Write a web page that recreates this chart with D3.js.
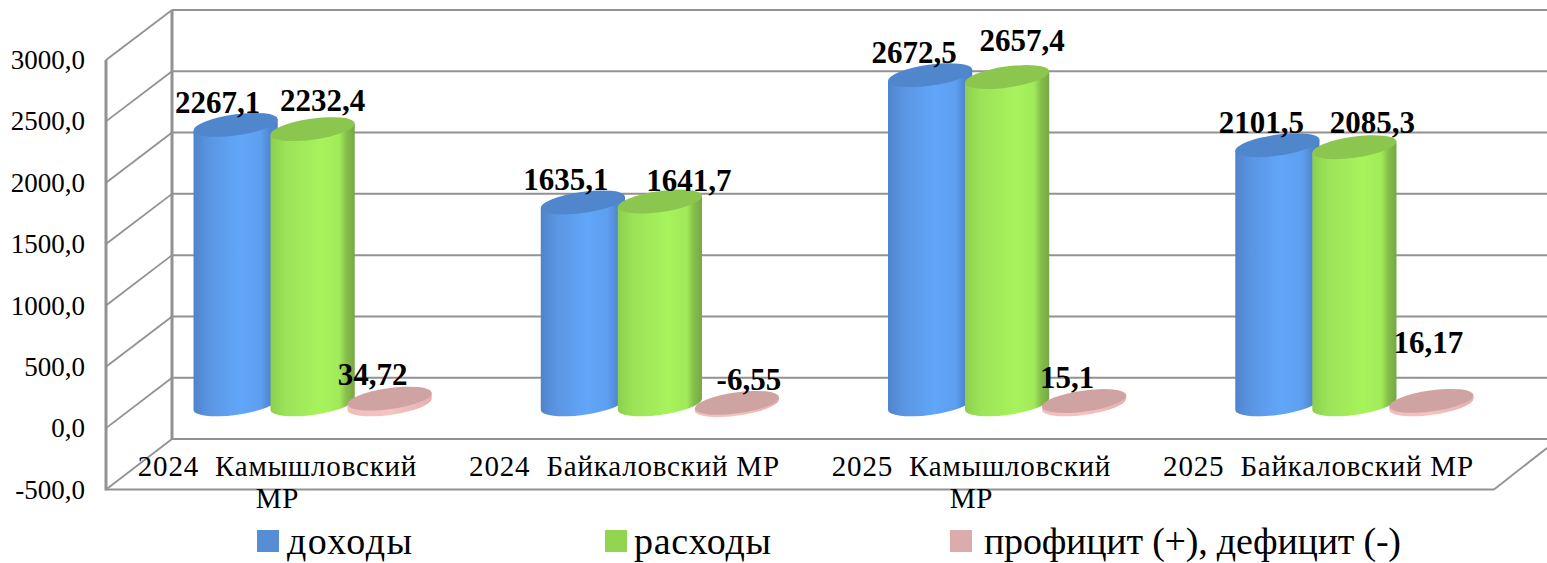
<!DOCTYPE html>
<html lang="ru">
<head>
<meta charset="utf-8">
<script src="https://cdn.jsdelivr.net/npm/d3@7"></script>
<style>
  html,body{margin:0;padding:0;background:#fff;}
  svg{display:block;}
  text{font-family:"Liberation Serif","Times New Roman",serif;fill:#000;white-space:pre;}
</style>
</head>
<body>
<svg id="chart" width="1547" height="563"></svg>
<script>
/* ----- data ------------------------------------------------- */
const categories = ['2024 Камышловский','2024 Байкаловский','2025 Камышловский','2025 Байкаловский'];
const categoryLabels = [
  ['2024  Камышловский','МР'],
  ['2024  Байкаловский МР'],
  ['2025  Камышловский','МР'],
  ['2025  Байкаловский МР']
];
const seriesNames = ['доходы','расходы','профицит (+), дефицит (-)'];
const income  = [2267.1,1635.1,2672.5,2101.5];
const costs   = [2232.4,1641.7,2657.4,2085.3];
const balance = [34.72,-6.55,15.1,16.17];
const yTicks  = [-500,0,500,1000,1500,2000,2500,3000];

/* ----- layout ----------------------------------------------- */
const svg = d3.select('#chart');
const frontX = 106, backX = 172, frontR = 1494, backR = 1547;
const yFront = d3.scaleLinear().domain([-500,3000]).range([489.5,60]);
const yBack  = d3.scaleLinear().domain([-500,3000]).range([439,10]);
const yMid   = d3.scaleLinear().domain([-500,3000]).range([464.2,35]);

const xMid   = d3.scaleBand().domain(categories).range([139,1528]);
const xFront = d3.scaleBand().domain(categories).range([frontX,frontR]);
const xSer   = d3.scalePoint().domain(seriesNames).range([-77,77]);

const RX = 42.5, RY = 10.5, TILT = -8, BASE_DROP = 1.5;
const GRID = '#929292';

// manual label nudges, same as someone dragged them in the original
const labelDx = [[-18,-17,-16,-16],[10,29,15,18],[-17,12,-17,-3]];
const labelDy = [[-12,-12,-12,-12],[-18,-11,-26,-14],[-14,-13,-13,-48]];

// legend text start and run length
const legendTextDx = [30,29,34];
const legendTextLen = [125,137,417];

const styles = [
  {top:'#4f86cc',grad:'gBlue', stops:[['0%','#4f84cb'],['18%','#5a95e2'],['55%','#61a6f9'],['80%','#5d9eef'],['90%','#5288d2'],['100%','#4f80c4']],swatch:'#558ed5'},
  {top:'#8bc64f',grad:'gGreen',stops:[['0%','#8ccf4e'],['18%','#9ce358'],['60%','#a7f35c'],['82%','#a1ea59'],['90%','#86bf4c'],['100%','#76a843']],swatch:'#92d64f'},
  {top:'#d0a3a3',grad:'gPink', stops:[['0%','#f2bcbc'],['50%','#f5c3c3'],['100%','#e6b0b0']],swatch:'#dcabab'}
];

/* ----- gradients -------------------------------------------- */
const defs = svg.append('defs');
styles.forEach(s=>{
  defs.append('linearGradient').attr('id',s.grad)
    .selectAll('stop').data(s.stops).join('stop')
      .attr('offset',d=>d[0]).attr('stop-color',d=>d[1]);
});

/* ----- walls and grid --------------------------------------- */
const walls = svg.append('g').attr('fill','none').attr('stroke',GRID);

walls.selectAll('.back').data(yTicks).join('line')
  .attr('x1',backX).attr('x2',backR)
  .attr('y1',d=>yBack(d)).attr('y2',d=>yBack(d))
  .attr('stroke-width',2);

walls.selectAll('.side').data(yTicks).join('line')
  .attr('x1',frontX).attr('x2',backX)
  .attr('y1',d=>yFront(d)).attr('y2',d=>yBack(d))
  .attr('stroke-width',1.8);

walls.append('line').attr('x1',backX).attr('x2',backX)
  .attr('y1',yBack(3000)).attr('y2',yBack(-500)).attr('stroke-width',3);
walls.append('line').attr('x1',frontX).attr('x2',frontX)
  .attr('y1',yFront(3000)).attr('y2',yFront(-500)+1).attr('stroke-width',3);
walls.append('line').attr('x1',frontX).attr('x2',frontR)
  .attr('y1',yFront(-500)).attr('y2',yFront(-500)).attr('stroke-width',2);
walls.append('line').attr('x1',frontR).attr('x2',backR)
  .attr('y1',yFront(-500)).attr('y2',yBack(-500)+9).attr('stroke-width',1.8);

/* ----- axes ------------------------------------------------- */
const fmt = d => d3.format('.1f')(d).replace('.',',').replace('−','-');

const yAxis = svg.append('g')
  .attr('transform',`translate(${frontX},0)`)
  .call(d3.axisLeft(yFront).tickValues(yTicks).tickFormat(fmt).tickSize(0).tickPadding(21));
yAxis.select('.domain').remove();
yAxis.selectAll('text')
  .style('font-size','27px').style('font-family','"Liberation Serif"')
  .attr('fill','#000').attr('dy','0.32em');

const xLab = svg.append('g').selectAll('text').data(categories).join('text')
  .attr('text-anchor','middle')
  .attr('y',476)
  .style('font-size','29px').style('letter-spacing','0.8px');
xLab.selectAll('tspan').data((d,i)=>categoryLabels[i]).join('tspan')
  .attr('x',function(){return xFront(d3.select(this.parentNode).datum())+xFront.bandwidth()/2-2;})
  .attr('dy',(d,i)=>i?32:0)
  .text(d=>d);

/* ----- cylinders -------------------------------------------- */
const t = TILT*Math.PI/180,
      xb = Math.sqrt(RX*RX*Math.cos(t)**2+RY*RY*Math.sin(t)**2),
      off = (RX*RX-RY*RY)*Math.sin(-t)*Math.cos(t)/xb;

function body(cx,yTop,yBot){
  return `M${cx-xb},${yTop+off}L${cx-xb},${yBot+off}`+
         `A${RX},${RY} ${TILT} 0 0 ${cx+xb},${yBot-off}`+
         `L${cx+xb},${yTop-off}Z`;
}

const rows = [income,costs,balance];
const marks = svg.append('g');

categories.forEach((c,ci)=>{
  seriesNames.forEach((s,si)=>{
    const v = rows[si][ci],
          cx = xMid(c)+xMid.bandwidth()/2+xSer(s),
          yTop = yMid(Math.max(v,0)),
          yBot = yMid(Math.min(v,0))+BASE_DROP,
          g = marks.append('g');
    g.append('path').attr('d',body(cx,yTop,yBot)).attr('fill',`url(#${styles[si].grad})`);
    g.append('ellipse')
      .attr('rx',RX).attr('ry',RY)
      .attr('transform',`translate(${cx},${yTop}) rotate(${TILT})`)
      .attr('fill',styles[si].top);
  });
});

/* ----- value labels ----------------------------------------- */
categories.forEach((c,ci)=>{
  seriesNames.forEach((s,si)=>{
    const v = rows[si][ci];
    svg.append('text')
      .attr('x',xMid(c)+xMid.bandwidth()/2+xSer(s)+labelDx[si][ci])
      .attr('y',yMid(Math.max(v,0))+labelDy[si][ci])
      .attr('text-anchor','middle')
      .style('font-size','31px').style('font-weight','bold')
      .text(String(v).replace('.',','));
  });
});

/* ----- legend ----------------------------------------------- */
const legendX = d3.scaleOrdinal().domain(seriesNames).range([257,605,950]);
const leg = svg.append('g').selectAll('g').data(seriesNames).join('g')
  .attr('transform',d=>`translate(${legendX(d)},530)`);
leg.append('rect').attr('width',22).attr('height',22)
  .attr('fill',(d,i)=>styles[i].swatch);
leg.append('text').attr('x',(d,i)=>legendTextDx[i]).attr('y',24)
  .attr('textLength',(d,i)=>legendTextLen[i])
  .style('font-size','38px').text(d=>d);
</script>
</body>
</html>
